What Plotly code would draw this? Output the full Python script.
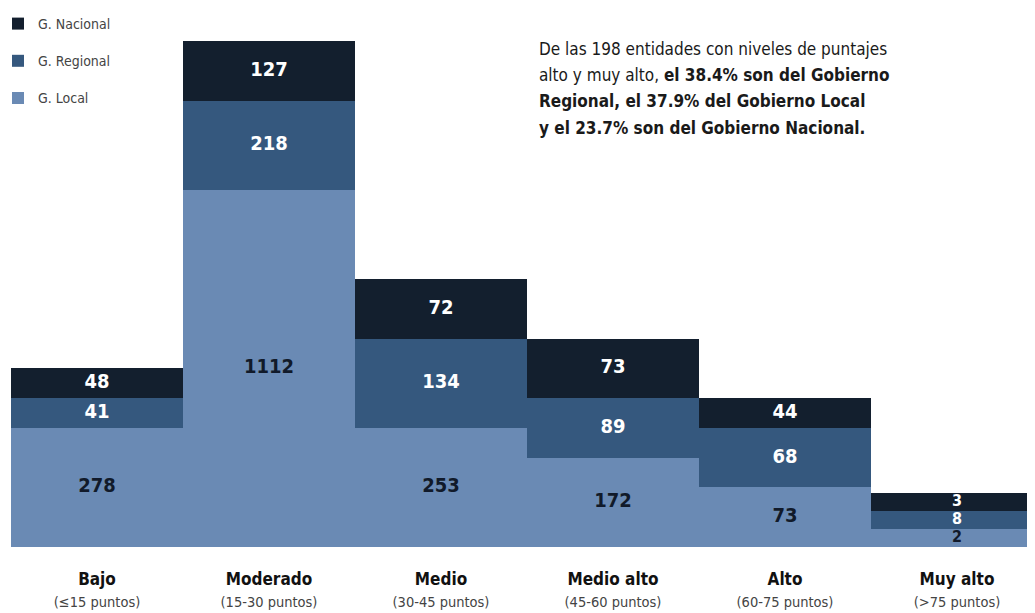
import plotly.graph_objects as go
import numpy as np

categories = ["Bajo", "Moderado", "Medio", "Medio alto", "Alto", "Muy alto"]
ranges = ["(≤15 puntos)", "(15-30 puntos)", "(30-45 puntos)", "(45-60 puntos)", "(60-75 puntos)", "(>75 puntos)"]

# Counts printed on the segments
local_vals = [278, 1112, 253, 172, 73, 2]
regional_vals = [41, 218, 134, 89, 68, 8]
nacional_vals = [48, 127, 72, 73, 44, 3]

# Segment heights as drawn in the infographic (not proportional to counts)
local_h = [4, 12, 4, 3, 2, 0.6]
regional_h = [1, 3, 3, 2, 2, 0.62]
nacional_h = [1, 2, 2, 2, 1, 0.58]

note_lines = [
    "De las 198 entidades con niveles de puntajes",
    "alto y muy alto, <b>el 38.4% son del Gobierno</b>",
    "<b>Regional, el 37.9% del Gobierno Local</b>",
    "<b>y el 23.7% son del Gobierno Nacional.</b>",
]

C_LOCAL = "#6a8ab4"
C_REG = "#35587e"
C_NAC = "#131f2e"
FONT = "DejaVu Sans Condensed, Liberation Sans Narrow, Arial Narrow, sans-serif"

# page body has an 8px margin; shift everything so the photo lines up
OFF = 8
W, H = 1035, 613
PL, PT, PW, PH = 11 - OFF, 41 - OFF, 1024, 506

fig = go.Figure()
series = [
    ("G. Local", local_h, local_vals, C_LOCAL, "#111a2a", 3),
    ("G. Regional", regional_h, regional_vals, C_REG, "#ffffff", 2),
    ("G. Nacional", nacional_h, nacional_vals, C_NAC, "#ffffff", 1),
]
base = np.zeros(len(categories))
for name, h, vals, col, tcol, rank in series:
    h = np.array(h, dtype=float)
    fig.add_trace(go.Bar(
        name=name, x=categories, y=h,
        marker=dict(color=col, line=dict(width=0)),
        legendrank=rank, legendgroup=name,
        hoverinfo="skip",
    ))
    centers = base + h / 2
    sizes = [20 if hh >= 1 else 16 for hh in h]
    fig.add_trace(go.Scatter(
        x=categories, y=centers, mode="text",
        text=[str(v) for v in vals], textposition="middle center",
        textfont=dict(family=FONT, size=sizes, color=tcol, weight="bold"),
        showlegend=False, hoverinfo="skip", cliponaxis=False,
    ))
    base = base + h

ticktext = [f"<b>{c}</b><br><span style='font-size:14.5px;color:#444'>{r}</span>"
            for c, r in zip(categories, ranges)]

annotations = []
for i, line in enumerate(note_lines):
    ypix = 49 + i * 26.2 - OFF
    annotations.append(dict(
        xref="paper", yref="paper", x=(537 - 11) / PW, y=1 + (PT - ypix) / PH,
        xanchor="left", yanchor="middle", align="left", showarrow=False,
        text=line, font=dict(family=FONT, size=17, color="#1a1a1a"),
    ))

fig.update_layout(
    barmode="stack", bargap=0,
    width=W, height=H,
    margin=dict(l=PL, r=W - PL - PW, t=PT, b=H - PT - PH, autoexpand=False),
    paper_bgcolor="white", plot_bgcolor="white",
    font=dict(family=FONT, color="#222"),
    xaxis=dict(
        range=[-0.5, -0.5 + PW / 172], tickmode="array",
        tickvals=categories, ticktext=ticktext, ticks="",
        showgrid=False, zeroline=False, showline=False,
        tickfont=dict(family=FONT, size=17, color="#111"),
        ticklabelstandoff=20, automargin=False,
    ),
    yaxis=dict(range=[0, 17], visible=False),
    legend=dict(
        xref="paper", yref="container",
        x=-0.0127, y=1.038, xanchor="left", yanchor="top",
        font=dict(family=FONT, size=14, color="#444"),
        tracegroupgap=16, itemwidth=30, bgcolor="rgba(0,0,0,0)",
    ),
    annotations=annotations,
)

fig.write_html("out.html")
